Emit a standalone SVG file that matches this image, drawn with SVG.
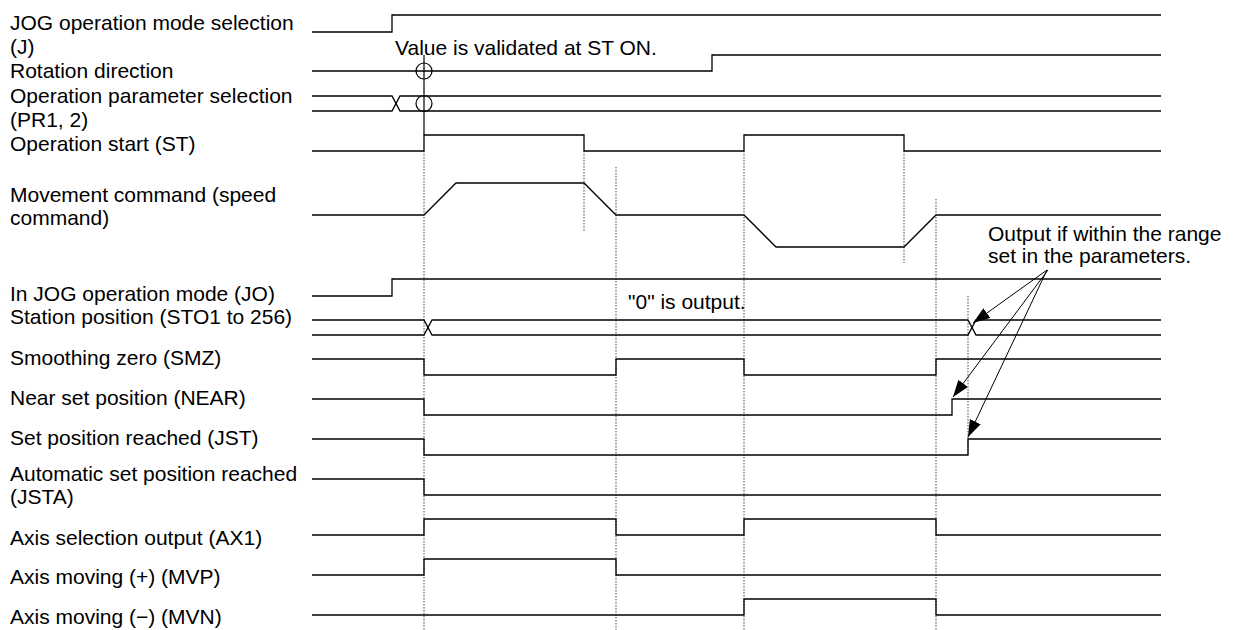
<svg xmlns="http://www.w3.org/2000/svg" width="1241" height="630" viewBox="0 0 1241 630">
<style>
text{font-family:"Liberation Sans",Arial,sans-serif;font-size:21px;fill:#000}
.w{fill:none;stroke:#000;stroke-width:1.3}
.g{fill:none;stroke:#444;stroke-width:1;stroke-dasharray:1.5 1.5}
.a{fill:none;stroke:#000;stroke-width:1}
.c{fill:none;stroke:#000;stroke-width:1.2}
</style>
<defs>
<marker id="ah" markerUnits="userSpaceOnUse" markerWidth="17" markerHeight="12" refX="17" refY="6" orient="auto"><path d="M0,0 L17,6 L0,12 Z" fill="#000"/></marker>
</defs>
<rect width="1241" height="630" fill="#fff"/>
<g id="guides">
<path class="g" d="M424,151 V630"/>
<path class="g" d="M584,151 V231"/>
<path class="g" d="M616,167 V630"/>
<path class="g" d="M744,151 V630"/>
<path class="g" d="M904,151 V263"/>
<path class="g" d="M936,199 V630"/>
<path class="g" d="M968,296 V455"/>
</g>
<g id="row-j">
<text x="10" y="30">JOG operation mode selection</text>
<text x="10" y="54">(J)</text>
<path class="w" d="M312,32 H392 V15 H1161"/>
</g>
<g id="row-rot">
<text x="10" y="78">Rotation direction</text>
<path class="w" d="M312,71 H712 V55 H1161"/>
</g>
<g id="row-pr">
<text x="10" y="103">Operation parameter selection</text>
<text x="10" y="127">(PR1, 2)</text>
<path class="w" d="M312,96 H392 L400,111 H1161"/>
<path class="w" d="M312,111 H392 L400,96 H1161"/>
</g>
<g id="note-st">
<text x="395" y="55">Value is validated at ST ON.</text>
<path class="c" d="M424,55 V135"/>
<circle class="c" cx="424" cy="71" r="8"/>
<circle class="c" cx="424" cy="103.5" r="8"/>
</g>
<g id="row-st">
<text x="10" y="151">Operation start (ST)</text>
<path class="w" d="M312,151 H424 V135 H584 V151 H744 V135 H904 V151 H1161"/>
</g>
<g id="row-speed">
<text x="10" y="202">Movement command (speed</text>
<text x="10" y="225">command)</text>
<path class="w" d="M312,215 H424 L456,183 H584 L616,215 H744 L776,247 H904 L936,215 H1161"/>
</g>
<g id="row-jo">
<text x="10" y="301">In JOG operation mode (JO)</text>
<path class="w" d="M312,296 H392 V279 H1161"/>
</g>
<g id="note-zero">
<text x="628" y="309">"0" is output.</text>
</g>
<g id="row-sto">
<text x="10" y="324">Station position (STO1 to 256)</text>
<path class="w" d="M312,320 H424 L432,335 H968 L976,320 H1161"/>
<path class="w" d="M312,335 H424 L432,320 H968 L976,335 H1161"/>
</g>
<g id="row-smz">
<text x="10" y="365">Smoothing zero (SMZ)</text>
<path class="w" d="M312,359 H424 V375 H616 V359 H744 V375 H936 V359 H1161"/>
</g>
<g id="row-near">
<text x="10" y="405">Near set position (NEAR)</text>
<path class="w" d="M312,399 H424 V415 H952 V399 H1161"/>
</g>
<g id="row-jst">
<text x="10" y="445">Set position reached (JST)</text>
<path class="w" d="M312,439 H424 V455 H968 V439 H1161"/>
</g>
<g id="row-jsta">
<text x="10" y="481">Automatic set position reached</text>
<text x="10" y="504">(JSTA)</text>
<path class="w" d="M312,479 H424 V495 H1161"/>
</g>
<g id="row-ax1">
<text x="10" y="545">Axis selection output (AX1)</text>
<path class="w" d="M312,535 H424 V519 H616 V535 H744 V519 H936 V535 H1161"/>
</g>
<g id="row-mvp">
<text x="10" y="584">Axis moving (+) (MVP)</text>
<path class="w" d="M312,575 H424 V559 H616 V575 H1161"/>
</g>
<g id="row-mvn">
<text x="10" y="624">Axis moving (−) (MVN)</text>
<path class="w" d="M312,615 H744 V599 H936 V615 H1161"/>
</g>
<g id="note-range">
<text x="988" y="241">Output if within the range</text>
<text x="988" y="263">set in the parameters.</text>
</g>
<g id="connectors">
<path class="a" d="M1047,270 L973,323" marker-end="url(#ah)"/>
<path class="a" d="M1048,270 L953,397" marker-end="url(#ah)"/>
<path class="a" d="M1047,270 L968,437" marker-end="url(#ah)"/>
</g>
</svg>
